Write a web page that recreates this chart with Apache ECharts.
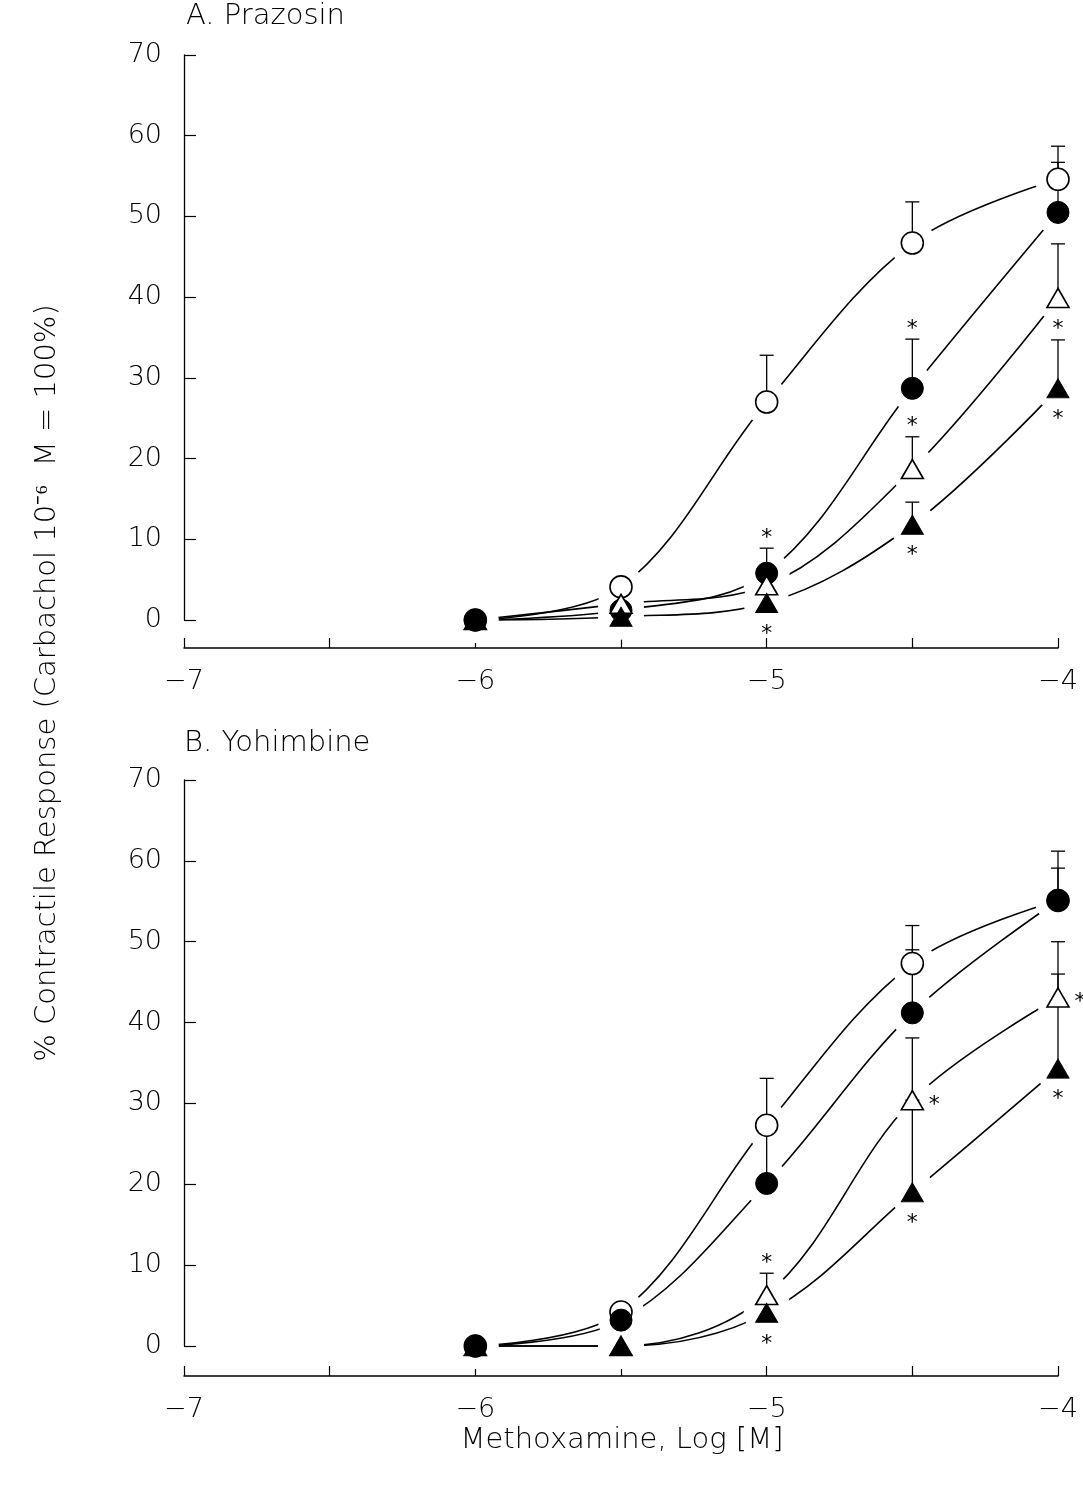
<!DOCTYPE html>
<html>
<head>
<meta charset="utf-8">
<script src="https://cdn.jsdelivr.net/npm/echarts@6/dist/echarts.min.js"></script>
<style>
html,body{margin:0;padding:0;background:#fff;}
#chart{width:1083px;height:1486px;}
</style>
</head>
<body>
<div id="chart"></div>
<script>
// ---------- DATA ----------
const xVals = [-6, -5.5, -5, -4.5, -4];
const xTickLabels = ['−7', '−6', '−5', '−4'];
const yTicks = [0, 10, 20, 30, 40, 50, 60, 70];

// Panel A: Prazosin
const aOpenCircle      = [0, 4.1, 27.0, 46.7, 54.6];
const aOpenCircleErr   = [null, null, 32.8, 51.8, 58.7];
const aOpenCircleSig   = [0, 0, 0, 0, 0];
const aFilledCircle    = [0, 1.2, 5.8, 28.7, 50.5];
const aFilledCircleErr = [null, null, 8.9, 34.8, 56.7];
const aFilledCircleSig = [0, 0, 1, 1, 0];
const aOpenTri         = [0, 2.0, 4.3, 18.7, 39.9];
const aOpenTriErr      = [null, null, null, 22.7, 46.6];
const aOpenTriSig      = [0, 0, 0, 1, 2];
const aFilledTri       = [0, 0.4, 2.1, 11.8, 28.7];
const aFilledTriErr    = [null, null, null, 14.6, 34.7];
const aFilledTriSig    = [0, 0, 2, 2, 2];

// Panel B: Yohimbine
const bOpenCircle      = [0, 4.2, 27.3, 47.3, 55.1];
const bOpenCircleErr   = [null, null, 33.1, 52.0, 59.1];
const bOpenCircleSig   = [0, 0, 0, 0, 0];
const bFilledCircle    = [0, 3.2, 20.1, 41.2, 55.1];
const bFilledCircleErr = [null, null, 27.0, 49.0, 61.2];
const bFilledCircleSig = [0, 0, 0, 0, 0];
const bOpenTri         = [0, 0, 6.3, 30.4, 43.1];
const bOpenTriErr      = [null, null, 9.0, 38.1, 50.0];
const bOpenTriSig      = [0, 0, 1, 3, 3];
const bFilledTri       = [0, 0, 4.1, 19.0, 34.3];
const bFilledTriErr    = [null, null, 6.0, 30.4, 46.0];
const bFilledTriSig    = [0, 0, 2, 2, 2];

const titles = ['A. Prazosin', 'B. Yohimbine'];
const xAxisTitle = 'Methoxamine, Log [M]';
const yAxisTitle = '% Contractile Response (Carbachol 10⁻⁶  M = 100%)';
// ---------- END DATA ----------

const FONT = 'DejaVu Sans';
const panels = [
  [
    {v: aOpenCircle, e: aOpenCircleErr, s: aOpenCircleSig, sym: 'circle', filled: false},
    {v: aFilledCircle, e: aFilledCircleErr, s: aFilledCircleSig, sym: 'circle', filled: true},
    {v: aOpenTri, e: aOpenTriErr, s: aOpenTriSig, sym: 'triangle', filled: false},
    {v: aFilledTri, e: aFilledTriErr, s: aFilledTriSig, sym: 'triangle', filled: true}
  ],
  [
    {v: bOpenCircle, e: bOpenCircleErr, s: bOpenCircleSig, sym: 'circle', filled: false},
    {v: bFilledCircle, e: bFilledCircleErr, s: bFilledCircleSig, sym: 'circle', filled: true},
    {v: bOpenTri, e: bOpenTriErr, s: bOpenTriSig, sym: 'triangle', filled: false},
    {v: bFilledTri, e: bFilledTriErr, s: bFilledTriSig, sym: 'triangle', filled: true}
  ]
];

const grids = [
  {left: 184, right: 25, top: 55, height: 565},
  {left: 184, right: 25, top: 780, height: 566}
];
const xOffsets = [28, 30];

const xAxes = grids.map((g, i) => ({
  type: 'value', gridIndex: i, min: -7, max: -4, interval: 0.5,
  offset: xOffsets[i],
  axisLine: {show: true, onZero: false, lineStyle: {color: '#000', width: 1.5}},
  axisTick: {show: true, inside: true, length: 10, lineStyle: {color: '#000', width: 1.2}},
  splitLine: {show: false},
  axisLabel: {
    margin: 20, color: '#000', fontSize: 27, fontFamily: FONT, fontWeight: 200,
    formatter: v => Number.isInteger(v) ? xTickLabels[v + 7] : ''
  }
}));
const yAxes = grids.map((g, i) => ({
  type: 'value', gridIndex: i, min: yTicks[0], max: yTicks[yTicks.length - 1], interval: 10,
  axisLine: {show: true, onZero: false, lineStyle: {color: '#000', width: 1.3}},
  axisTick: {show: true, inside: true, length: 12, lineStyle: {color: '#000', width: 1.2}},
  splitLine: {show: false},
  axisLabel: {margin: 22, color: '#000', fontSize: 27, fontFamily: FONT, fontWeight: 200}
}));

const series = [];
const pts = (arr) => arr.map((y, k) => [xVals[k], y]);

panels.forEach((sets, p) => {
  // fitted curves (bottom layer)
  sets.forEach(st => {
    series.push({
      type: 'line', xAxisIndex: p, yAxisIndex: p, data: pts(st.v),
      smooth: 0.35, showSymbol: false, symbol: 'none', clip: false, silent: true, zlevel: 0, z: 2,
      lineStyle: {color: '#000', width: 1.6}
    });
  });
  // white halos producing gaps around markers
  sets.forEach(st => {
    series.push({
      type: 'scatter', xAxisIndex: p, yAxisIndex: p, data: pts(st.v),
      symbol: 'circle', symbolSize: 46, clip: false, silent: true, zlevel: 1, z: 1,
      itemStyle: {color: '#fff', opacity: 1}
    });
  });
  // error bars
  sets.forEach(st => {
    const d = [];
    st.v.forEach((y, k) => { if (st.e[k] != null) d.push([xVals[k], y, st.e[k]]); });
    series.push({
      type: 'custom', xAxisIndex: p, yAxisIndex: p, data: d, clip: false, silent: true, zlevel: 1, z: 4,
      renderItem: (params, api) => {
        const p0 = api.coord([api.value(0), api.value(1)]);
        const p1 = api.coord([api.value(0), api.value(2)]);
        const st2 = {stroke: '#000', lineWidth: 1.3};
        return {type: 'group', children: [
          {type: 'line', shape: {x1: p0[0], y1: p0[1], x2: p1[0], y2: p1[1]}, style: st2},
          {type: 'line', shape: {x1: p1[0] - 7, y1: p1[1], x2: p1[0] + 7, y2: p1[1]}, style: st2}
        ]};
      }
    });
  });
  // markers
  sets.forEach(st => {
    series.push({
      type: 'scatter', xAxisIndex: p, yAxisIndex: p, data: pts(st.v), clip: false, silent: true, zlevel: 1, z: 5,
      symbol: st.sym, symbolSize: st.sym === 'circle' ? 22 : [22, 19],
      itemStyle: st.filled ? {color: '#000', borderColor: '#000', borderWidth: 1, opacity: 1}
                           : {color: '#fff', borderColor: '#000', borderWidth: 1.6, opacity: 1}
    });
  });
  // significance asterisks
  sets.forEach(st => {
    const d = [];
    st.v.forEach((y, k) => {
      if (st.s[k]) d.push([xVals[k], y, st.e[k] != null ? st.e[k] : y, st.s[k]]);
    });
    series.push({
      type: 'custom', xAxisIndex: p, yAxisIndex: p, data: d, clip: false, silent: true, zlevel: 1, z: 6,
      renderItem: (params, api) => {
        const code = api.value(3);
        const pm = api.coord([api.value(0), api.value(1)]);
        const pc = api.coord([api.value(0), api.value(2)]);
        let x = pm[0], y = pm[1];
        if (code === 1) { y = pc[1] - 15; }
        else if (code === 2) { y = pm[1] + 26; }
        else if (code === 3) { x = pm[0] + 22; }
        return {type: 'text', x: x, y: y + 5,
          style: {text: '*', fontSize: 22, fontFamily: FONT, fill: '#000', align: 'center', verticalAlign: 'middle'}};
      }
    });
  });
});

const chart = echarts.init(document.getElementById('chart'), null, {renderer: 'canvas'});
chart.setOption({
  backgroundColor: '#fff',
  animation: false,
  grid: grids,
  xAxis: xAxes,
  yAxis: yAxes,
  series: series,
  graphic: [
    {type: 'text', left: 186, top: 2, style: {text: titles[0], fontSize: 29, fontFamily: FONT, fontWeight: 200, fill: '#000'}},
    {type: 'text', left: 184, top: 729, style: {text: titles[1], fontSize: 29, fontFamily: FONT, fontWeight: 200, fill: '#000'}},
    {type: 'text', x: 622, y: 1440, style: {text: xAxisTitle, fontSize: 29, fontFamily: FONT, fontWeight: 200, fill: '#000', align: 'center', verticalAlign: 'middle'}},
    {type: 'text', x: 47, y: 683, rotation: Math.PI / 2,
      style: {text: yAxisTitle, fontSize: 29, fontFamily: FONT, fontWeight: 200, fill: '#000', align: 'center', verticalAlign: 'middle'}}
  ]
});
</script>
</body>
</html>
